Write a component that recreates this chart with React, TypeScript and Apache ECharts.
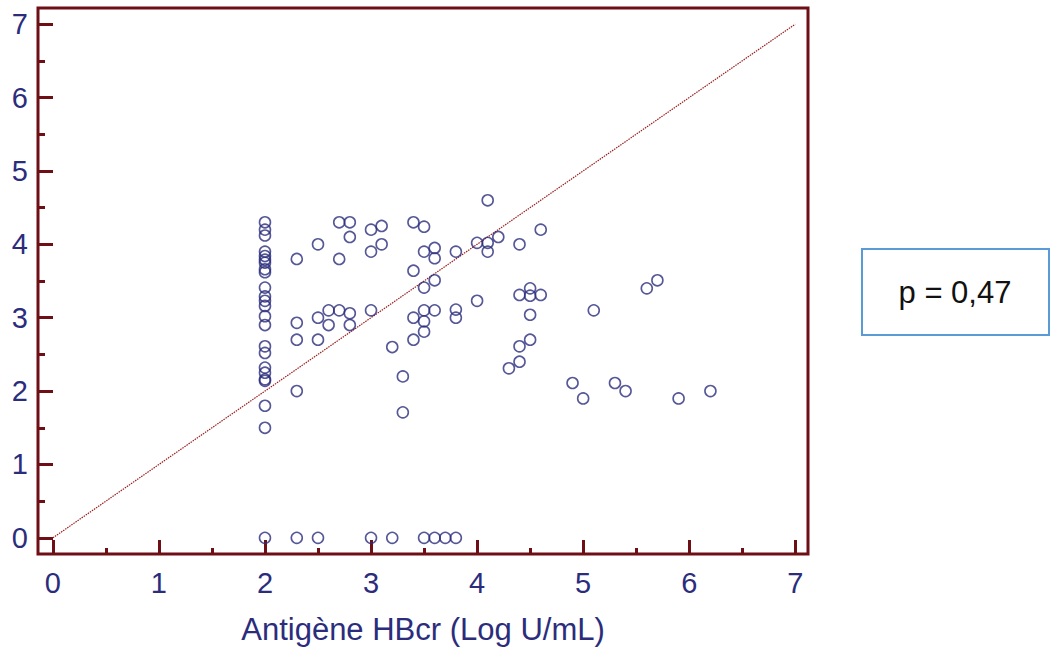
import React, { useEffect, useRef } from "react";
import * as echarts from "echarts";

// Scatter data: HBcr antigen (x) vs y value
const xValues: number[] = [
  2, 2, 2, 2, 2, 2, 2, 2, 2, 2, 2, 2, 2, 2, 2, 2, 2, 2, 2, 2, 2, 2, 2, 2,
  2.3, 2.3, 2.3, 2.3, 2.3,
  2.5, 2.5, 2.5, 2.5,
  2.6, 2.6,
  2.7, 2.7, 2.7,
  2.8, 2.8, 2.8, 2.8,
  3.0, 3.0, 3.0, 3.0,
  3.1, 3.1,
  3.2, 3.2,
  3.3, 3.3,
  3.4, 3.4, 3.4, 3.4,
  3.5, 3.5, 3.5, 3.5, 3.5, 3.5, 3.5,
  3.6, 3.6, 3.6, 3.6, 3.6,
  3.7,
  3.8, 3.8, 3.8, 3.8,
  4.0, 4.0,
  4.1, 4.1, 4.1,
  4.2,
  4.3,
  4.4, 4.4, 4.4, 4.4,
  4.5, 4.5, 4.5, 4.5,
  4.6, 4.6,
  4.9, 5.0, 5.1, 5.3, 5.4, 5.6, 5.7, 5.9, 6.2,
];
const yValues: number[] = [
  4.3, 4.2, 4.12, 3.9, 3.84, 3.79, 3.75, 3.66, 3.62, 3.41, 3.29, 3.23, 3.16, 3.02, 2.9, 2.61, 2.52, 2.32, 2.25, 2.16, 2.14, 1.8, 1.5, 0,
  3.8, 2.93, 2.7, 2.0, 0,
  4.0, 3.0, 2.7, 0,
  3.1, 2.9,
  4.3, 3.8, 3.1,
  4.3, 4.1, 3.06, 2.9,
  4.2, 3.9, 3.1, 0,
  4.25, 4.0,
  2.6, 0,
  2.2, 1.71,
  4.3, 3.64, 3.0, 2.7,
  4.24, 3.9, 3.41, 3.1, 2.95, 2.81, 0,
  3.95, 3.81, 3.51, 3.1, 0,
  0,
  3.9, 3.11, 3.0, 0,
  4.02, 3.23,
  4.6, 4.02, 3.9,
  4.1,
  2.31,
  4.0, 3.31, 2.61, 2.4,
  3.4, 3.3, 3.04, 2.7,
  4.2, 3.31,
  2.11, 1.9, 3.1, 2.11, 2.0, 3.4, 3.51, 1.9, 2.0,
];
const identityLine: number[][] = [
  [0, 0],
  [7, 7],
];
const majorTicks: number[] = [0, 1, 2, 3, 4, 5, 6, 7];
const minorTicks: number[] = [0.5, 1.5, 2.5, 3.5, 4.5, 5.5, 6.5];
const xAxisTitle = "Antigène HBcr (Log U/mL)";
const pText = "p = 0,47";

const NAVY = "#2b2d7c";
const FRAME = "#6e0f16";
const FONT = "'Liberation Sans', Arial, sans-serif";

export default function App() {
  const ref = useRef<HTMLDivElement>(null);
  useEffect(() => {
    if (!ref.current) return;
    const chart = echarts.init(ref.current, null, { renderer: "svg" });
    const points = xValues.map((x, i) => [x, yValues[i]]);
    const xMin = -0.14;
    const xMax = 7.12;
    const yMin = -0.22;
    const yMax = 7.22;
    const labelStyle = { color: NAVY, fontSize: 29, fontFamily: FONT };
    chart.setOption({
      animation: false,
      backgroundColor: "#ffffff",
      grid: {
        left: 38,
        right: 242,
        top: 8,
        bottom: 95,
        show: true,
        borderColor: FRAME,
        borderWidth: 3,
        backgroundColor: "transparent",
      },
      xAxis: [
        {
          type: "value",
          min: xMin,
          max: xMax,
          splitLine: { show: false },
          axisLine: { show: false, onZero: false },
          axisTick: {
            show: true,
            inside: true,
            length: 14,
            lineStyle: { color: FRAME, width: 3 },
            customValues: majorTicks,
          },
          axisLabel: { ...labelStyle, margin: 14, customValues: majorTicks },
          name: xAxisTitle,
          nameLocation: "middle",
          nameGap: 60,
          nameTextStyle: { color: NAVY, fontSize: 31, fontFamily: FONT },
        },
        {
          type: "value",
          min: xMin,
          max: xMax,
          position: "bottom",
          splitLine: { show: false },
          axisLine: { show: false, onZero: false },
          axisLabel: { show: false },
          axisTick: {
            show: true,
            inside: true,
            length: 6,
            lineStyle: { color: FRAME, width: 3 },
            customValues: minorTicks,
          },
        },
      ],
      yAxis: [
        {
          type: "value",
          min: yMin,
          max: yMax,
          splitLine: { show: false },
          axisLine: { show: false, onZero: false },
          axisTick: {
            show: true,
            inside: true,
            length: 15,
            lineStyle: { color: FRAME, width: 3 },
            customValues: majorTicks,
          },
          axisLabel: { ...labelStyle, margin: 10, customValues: majorTicks },
        },
        {
          type: "value",
          min: yMin,
          max: yMax,
          position: "left",
          splitLine: { show: false },
          axisLine: { show: false, onZero: false },
          axisLabel: { show: false },
          axisTick: {
            show: true,
            inside: true,
            length: 7,
            lineStyle: { color: FRAME, width: 3 },
            customValues: minorTicks,
          },
        },
      ],
      series: [
        {
          type: "line",
          data: identityLine,
          symbol: "none",
          lineStyle: { color: "#9a1e1e", width: 1.2, type: [1.5, 1] },
          silent: true,
          z: 1,
        },
        {
          type: "scatter",
          data: points,
          symbol: "circle",
          symbolSize: 11,
          itemStyle: {
            color: "rgba(255,255,255,0)",
            borderColor: NAVY,
            borderWidth: 1.6,
          },
          z: 3,
        },
      ],
      graphic: [
        {
          type: "rect",
          left: 861,
          top: 248,
          shape: { width: 187, height: 86 },
          style: { fill: "#ffffff", stroke: "#5b9bd5", lineWidth: 2 },
        },
        {
          type: "text",
          x: 955,
          y: 292,
          style: {
            text: pText,
            fontSize: 31,
            fontFamily: FONT,
            fill: "#111111",
            align: "center",
            verticalAlign: "middle",
          },
        },
      ],
    });
    return () => chart.dispose();
  }, []);
  return (
    <div
      ref={ref}
      style={{ position: "fixed", left: 0, top: 0, width: 1050, height: 650 }}
    />
  );
}
